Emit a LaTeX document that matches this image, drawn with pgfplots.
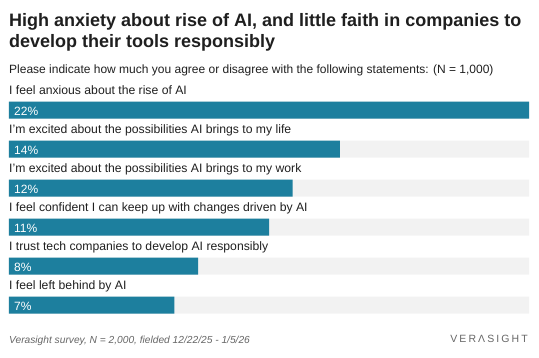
\documentclass[border=0pt]{standalone}
\usepackage{pgfplots}
\pgfplotsset{compat=1.18}
\usepackage{fontspec}
\setmainfont{Liberation Sans}
\definecolor{barc}{HTML}{1D7F9E}
\definecolor{bgc}{HTML}{F2F2F2}
\definecolor{txt}{HTML}{1F1F1F}
\definecolor{foot}{HTML}{666666}
\begin{document}
\begin{tikzpicture}
\path (0pt,0pt) rectangle (539pt,-357pt);
\node[anchor=base west, inner sep=0, font=\bfseries\fontsize{18}{20}\selectfont, text=txt] at (9pt,-26pt) {High anxiety about rise of AI, and little faith in companies to};
\node[anchor=base west, inner sep=0, font=\bfseries\fontsize{18}{20}\selectfont, text=txt] at (9pt,-47pt) {develop their tools responsibly};
\node[anchor=base west, inner sep=0, font=\fontsize{12}{14}\selectfont, text=txt] at (9pt,-73pt) {Please indicate how much you agree or disagree with the following statements: (N = 1,000)};
\begin{axis}[at={(9pt,-90.5pt)}, anchor=north west, width=520pt, height=234pt, scale only axis,
  xmin=0, xmax=22, ymin=-0.5, ymax=5.5, y dir=reverse, hide axis, xbar, bar width=17pt, bar shift=0pt, clip=false]
\addplot[fill=bgc, draw=none] coordinates {(22,0) (22,1) (22,2) (22,3) (22,4) (22,5)};
\addplot[fill=barc, draw=none] coordinates {(22,0) (14,1) (12,2) (11,3) (8,4) (7,5)};
\begin{scope}[every node/.style={anchor=base west, inner sep=0, font=\fontsize{12.2}{14}\selectfont, text=txt}]
\node[yshift=15.5pt] at (axis cs:0,0) {I feel anxious about the rise of AI};
\node[yshift=15.5pt] at (axis cs:0,1) {I’m excited about the possibilities AI brings to my life};
\node[yshift=15.5pt] at (axis cs:0,2) {I’m excited about the possibilities AI brings to my work};
\node[yshift=15.5pt] at (axis cs:0,3) {I feel confident I can keep up with changes driven by AI};
\node[yshift=15.5pt] at (axis cs:0,4) {I trust tech companies to develop AI responsibly};
\node[yshift=15.5pt] at (axis cs:0,5) {I feel left behind by AI};
\end{scope}
\begin{scope}[every node/.style={anchor=base west, inner sep=0, font=\fontsize{12}{14}\selectfont, text=white}]
\node[xshift=5pt, yshift=-5pt] at (axis cs:0,0) {22\%};
\node[xshift=5pt, yshift=-5pt] at (axis cs:0,1) {14\%};
\node[xshift=5pt, yshift=-5pt] at (axis cs:0,2) {12\%};
\node[xshift=5pt, yshift=-5pt] at (axis cs:0,3) {11\%};
\node[xshift=5pt, yshift=-5pt] at (axis cs:0,4) {8\%};
\node[xshift=5pt, yshift=-5pt] at (axis cs:0,5) {7\%};
\end{scope}
\end{axis}
\node[anchor=base west, inner sep=0, font=\itshape\fontsize{10.2}{12}\selectfont, text=foot] at (9pt,-343pt) {Verasight survey, N = 2,000, fielded 12/22/25 - 1/5/26};
\node[anchor=base east, inner sep=0, font=\addfontfeature{LetterSpace=20}\fontsize{10.5}{13}\selectfont, text=foot] at (528pt,-342pt) {VERΛSIGHT};
\end{tikzpicture}
\end{document}
